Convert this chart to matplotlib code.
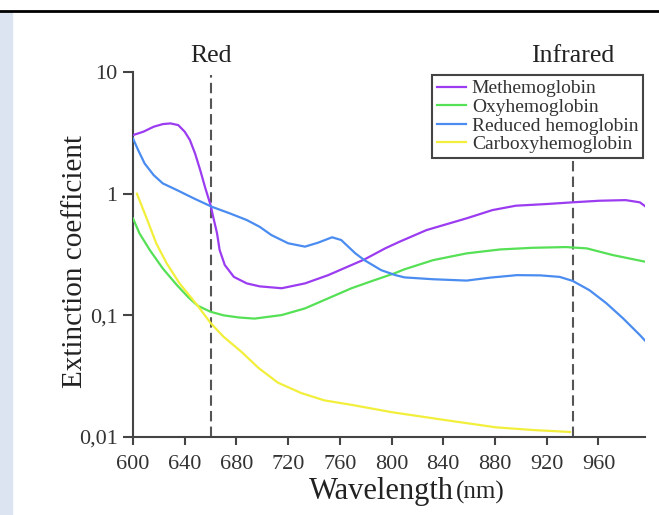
import matplotlib
matplotlib.use("Agg")
import matplotlib.pyplot as plt
from matplotlib.patches import Rectangle

# (nm, extinction coefficient)
met_nm = [600, 608, 616, 623, 629, 635, 640, 644, 648, 652, 656, 660, 662, 665, 667, 671,
          678, 688, 698, 715, 733, 751, 766, 779, 795, 806, 827, 858, 878, 896, 920, 940,
          961, 981, 992, 996]
met_val = [3.03, 3.23, 3.55, 3.73, 3.78, 3.66, 3.23, 2.76, 2.14, 1.56, 1.105, 0.806, 0.646,
           0.472, 0.344, 0.259, 0.207, 0.183, 0.173, 0.167, 0.183, 0.214, 0.251, 0.288,
           0.355, 0.402, 0.502, 0.627, 0.733, 0.796, 0.822, 0.849, 0.875, 0.885, 0.849, 0.79]

oxy_nm = [600, 605, 613, 623, 634, 643, 650, 660, 670, 682, 694, 715, 733, 751, 769, 787,
          802, 810, 832, 858, 884, 909, 935, 951, 971, 996]
oxy_val = [0.626, 0.472, 0.344, 0.243, 0.177, 0.14, 0.12, 0.107, 0.10, 0.096, 0.094, 0.1005,
           0.114, 0.138, 0.167, 0.195, 0.221, 0.239, 0.284, 0.323, 0.348, 0.359, 0.364,
           0.355, 0.313, 0.276]

red_nm = [600, 604, 609, 616, 623, 634, 647, 661, 675, 688, 698, 707, 720, 733, 743, 754,
          761, 772, 779, 792, 803, 810, 832, 858, 876, 897, 915, 930, 940, 953, 966, 979,
          992, 996]
red_val = [2.84, 2.28, 1.77, 1.42, 1.215, 1.07, 0.915, 0.78, 0.688, 0.607, 0.534, 0.457,
           0.391, 0.367, 0.395, 0.438, 0.416, 0.323, 0.284, 0.235, 0.214, 0.205, 0.198,
           0.193, 0.204, 0.214, 0.213, 0.207, 0.192, 0.161, 0.126, 0.0945, 0.0689, 0.062]

carb_nm = [603, 611, 618, 626, 636, 650, 660, 670, 684, 697, 712, 730, 748, 770, 800, 841,
           881, 910, 938]
carb_val = [1.0, 0.61, 0.39, 0.268, 0.183, 0.12, 0.0865, 0.0667, 0.05, 0.037, 0.028,
            0.023, 0.020, 0.0183, 0.016, 0.0138, 0.012, 0.0114, 0.011]

series_names = ["Methemoglobin", "Oxyhemoglobin", "Reduced hemoglobin", "Carboxyhemoglobin"]
series_colors = ["#9b3cf0", "#55e055", "#4a8cf0", "#f2ef3c"]

x_ticks = [600, 640, 680, 720, 760, 800, 840, 880, 920, 960]
y_ticks = [0.01, 0.1, 1, 10]
y_tick_labels = ["0,01", "0,1", "1", "10"]

bands = [660, 940]
band_names = ["Red", "Infrared"]

plt.rcParams["font.family"] = ["Liberation Serif", "DejaVu Serif"]

fig = plt.figure(figsize=(6.59, 5.15), dpi=100)
fig.patches.append(Rectangle((0, 0), 12 / 659, 1 - 12 / 515, transform=fig.transFigure,
                             color="#dce4f2", zorder=0))
fig.lines.append(plt.Line2D([0, 1], [1 - 11 / 515, 1 - 11 / 515], transform=fig.transFigure,
                            color="black", lw=2))

ax = fig.add_axes([133 / 659, 1 - 437 / 515, 512 / 659, 365 / 515])
ax.set_yscale("log")
ax.set_xlim(600, 996)
ax.set_ylim(0.01, 10)

xs = [met_nm, oxy_nm, red_nm, carb_nm]
ys = [met_val, oxy_val, red_val, carb_val]
for x, y, name, col in zip(xs, ys, series_names, series_colors):
    ax.plot(x, y, color=col, lw=1.6, label=name, zorder=3, solid_joinstyle="round")

for b, name in zip(bands, band_names):
    ax.plot([b, b], [0.01, 9.4], color="#555555", lw=1.5, dashes=(5, 2.5), zorder=2)
    ax.text(b, 1.044, name, transform=ax.get_xaxis_transform(), ha="center", va="center",
            fontsize=18.5, color="#222222")

ax.set_xticks(x_ticks)
ax.set_xticklabels([str(t) for t in x_ticks])
ax.set_yticks(y_ticks)
ax.set_yticklabels(y_tick_labels)
ax.minorticks_off()

for side in ["top", "right"]:
    ax.spines[side].set_visible(False)
for side in ["left", "bottom"]:
    ax.spines[side].set_color("#444444")
    ax.spines[side].set_linewidth(1.5)
ax.tick_params(axis="x", length=6, width=1.5, color="#444444", pad=7, labelsize=16,
               labelcolor="#333333")
ax.tick_params(axis="y", length=7, width=1.5, color="#444444", pad=4, labelsize=16,
               labelcolor="#333333")

ax.set_ylabel("Extinction coefficient", fontsize=21, color="#222222", va="center")
ax.yaxis.set_label_coords(-0.113, 0.482)

fig.text(454 / 659, 1 - 499 / 515, "Wavelength", ha="right", va="baseline", fontsize=22,
         color="#222222")
fig.text(456 / 659, 1 - 499 / 515, "(nm)", ha="left", va="baseline", fontsize=18,
         color="#222222")

leg = ax.legend(loc="upper left", bbox_to_anchor=(432 / 659, 1 - 75 / 515),
                bbox_transform=fig.transFigure, borderaxespad=0, fancybox=False,
                fontsize=14, labelspacing=0.05, handlelength=1.5, handletextpad=0.3,
                borderpad=0.25, framealpha=1)
leg.get_frame().set_edgecolor("#444444")
leg.get_frame().set_linewidth(1.5)
for t in leg.get_texts():
    t.set_color("#333333")
leg.set_zorder(5)

fig.savefig("out.png", dpi=100)
